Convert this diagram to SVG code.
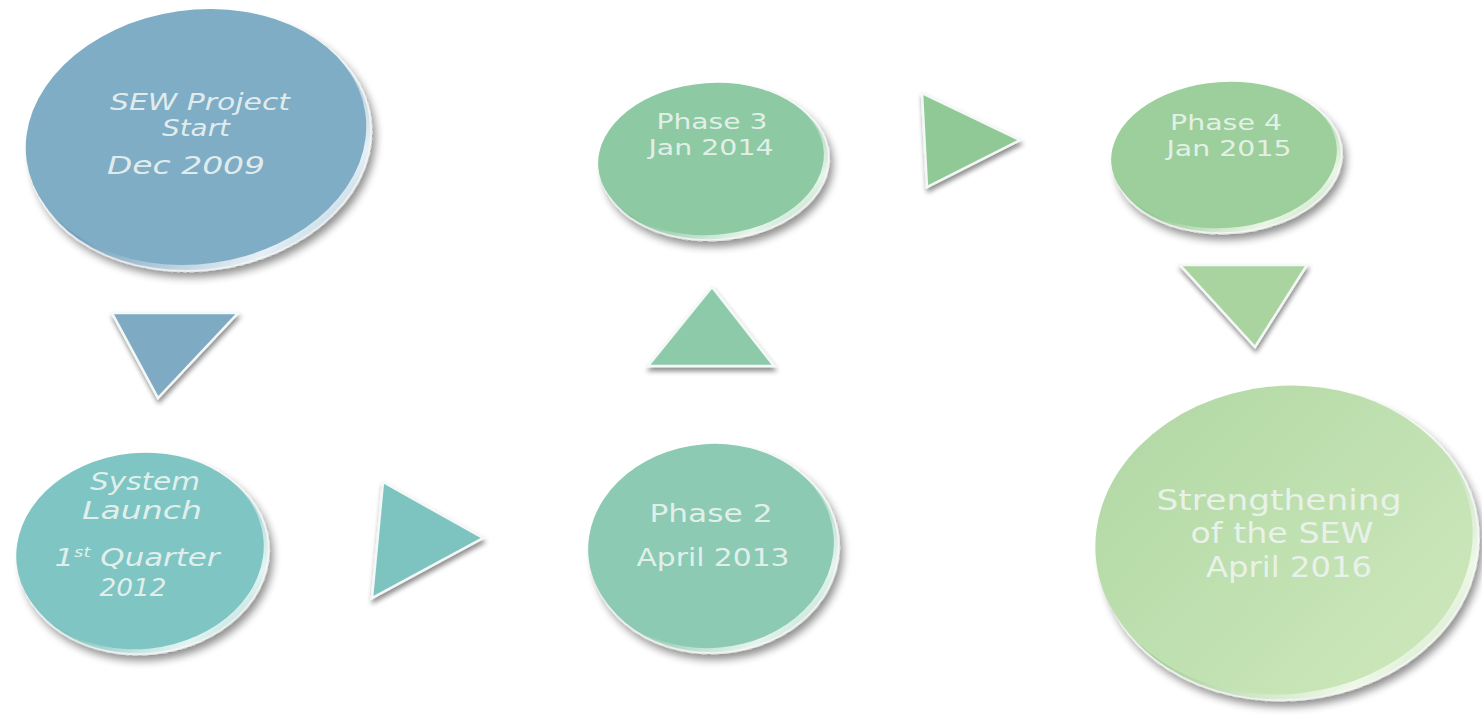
<svg xmlns="http://www.w3.org/2000/svg" width="1482" height="715" viewBox="0 0 1482 715">
<style>
  .lbl { font-family: "DejaVu Sans", "Liberation Sans", sans-serif; fill: #eef5f2; fill-opacity: 0.9; text-anchor: middle; }
  .it { font-style: italic; }
  .tri { stroke: #f4f8f6; stroke-width: 2.5; stroke-linejoin: miter; filter: url(#tshadow); }
  .face { stroke: none; }
  .rim { stroke: #ffffff; stroke-opacity: 0.8; stroke-width: 1.5; filter: url(#dshadow); }
</style>
<defs>
  <filter id="dshadow" x="-20%" y="-20%" width="140%" height="150%">
    <feGaussianBlur in="SourceAlpha" stdDeviation="4"/>
    <feOffset dx="3" dy="6" result="b"/>
    <feComponentTransfer><feFuncA type="linear" slope="0.45"/></feComponentTransfer>
    <feMerge><feMergeNode/><feMergeNode in="SourceGraphic"/></feMerge>
  </filter>
  <filter id="tshadow" x="-20%" y="-20%" width="140%" height="150%">
    <feGaussianBlur in="SourceAlpha" stdDeviation="2.5"/>
    <feOffset dx="1" dy="4" result="b"/>
    <feComponentTransfer><feFuncA type="linear" slope="0.45"/></feComponentTransfer>
    <feMerge><feMergeNode/><feMergeNode in="SourceGraphic"/></feMerge>
  </filter>
  <linearGradient id="rim1" x1="0" y1="0" x2="1" y2="1"><stop offset="0.45" stop-color="#6f9cb6"/><stop offset="0.8" stop-color="#e6f0f6"/><stop offset="1" stop-color="#8fb3c8"/></linearGradient>
  <linearGradient id="rim2" x1="0" y1="0" x2="1" y2="1"><stop offset="0.45" stop-color="#6ab5b2"/><stop offset="0.8" stop-color="#e4f5f3"/><stop offset="1" stop-color="#86c4c1"/></linearGradient>
  <linearGradient id="rim3" x1="0" y1="0" x2="1" y2="1"><stop offset="0.45" stop-color="#78bb9f"/><stop offset="0.8" stop-color="#e6f5ee"/><stop offset="1" stop-color="#92c9b2"/></linearGradient>
  <linearGradient id="rim4" x1="0" y1="0" x2="1" y2="1"><stop offset="0.45" stop-color="#79b98f"/><stop offset="0.8" stop-color="#e6f5ea"/><stop offset="1" stop-color="#94c9a5"/></linearGradient>
  <linearGradient id="rim5" x1="0" y1="0" x2="1" y2="1"><stop offset="0.45" stop-color="#86c086"/><stop offset="0.8" stop-color="#eaf6e6"/><stop offset="1" stop-color="#a2cf9f"/></linearGradient>
  <linearGradient id="rim6" x1="0" y1="0" x2="1" y2="1"><stop offset="0.45" stop-color="#9cca90"/><stop offset="0.8" stop-color="#eef8e8"/><stop offset="1" stop-color="#bcdcaf"/></linearGradient>
  <linearGradient id="face6" x1="0" y1="0" x2="1" y2="1"><stop offset="0" stop-color="#b0d7a3"/><stop offset="1" stop-color="#cfe9bd"/></linearGradient>
</defs>

<g id="connectors">
  <polygon id="arrow1" class="tri" points="112,313 238,313 158,398" fill="#7eaac4"/>
  <polygon id="arrow2" class="tri" points="383,482 483,538 372,598" fill="#7dc3bf"/>
  <polygon id="arrow3" class="tri" points="712,287 648,366 774,366" fill="#8ccaaa"/>
  <polygon id="arrow4" class="tri" points="922,93 1020,140 927,187" fill="#90c995"/>
  <polygon id="arrow5" class="tri" points="1180,265 1307,265 1255,347" fill="#a9d49f"/>
</g>

<g id="node-sew-start">
  <ellipse class="rim" cx="200" cy="142" rx="172" ry="128" transform="rotate(-8 200 142)" fill="url(#rim1)"/>
  <ellipse class="face" cx="196" cy="137" rx="171" ry="127" transform="rotate(-8 196 137)" fill="#80adc6"/>
  <text class="lbl it" font-size="23" x="200" y="110" textLength="180" lengthAdjust="spacingAndGlyphs">SEW Project</text>
  <text class="lbl it" font-size="23" x="196" y="136" textLength="68" lengthAdjust="spacingAndGlyphs">Start</text>
  <text class="lbl it" font-size="24" x="186" y="174" textLength="158" lengthAdjust="spacingAndGlyphs">Dec 2009</text>
</g>

<g id="node-system-launch">
  <ellipse class="rim" cx="144" cy="555" rx="125" ry="99" transform="rotate(-6 144 555)" fill="url(#rim2)"/>
  <ellipse class="face" cx="140" cy="551" rx="124" ry="98" transform="rotate(-6 140 551)" fill="#7fc5c3"/>
  <text class="lbl it" font-size="24" x="145" y="490" textLength="110" lengthAdjust="spacingAndGlyphs">System</text>
  <text class="lbl it" font-size="24" x="142" y="519" textLength="120" lengthAdjust="spacingAndGlyphs">Launch</text>
  <text class="lbl it" font-size="24" x="137" y="566" textLength="165" lengthAdjust="spacingAndGlyphs">1<tspan font-size="14" dy="-9">st</tspan><tspan dy="9"> Quarter</tspan></text>
  <text class="lbl it" font-size="24" x="133" y="596" textLength="67" lengthAdjust="spacingAndGlyphs">2012</text>
</g>

<g id="node-phase2">
  <ellipse class="rim" cx="715" cy="550" rx="124" ry="103" transform="rotate(-5 715 550)" fill="url(#rim3)"/>
  <ellipse class="face" cx="711" cy="546" rx="123" ry="102" transform="rotate(-5 711 546)" fill="#8ccab4"/>
  <text class="lbl" font-size="25" x="711" y="522" textLength="123" lengthAdjust="spacingAndGlyphs">Phase 2</text>
  <text class="lbl" font-size="25" x="713" y="566" textLength="153" lengthAdjust="spacingAndGlyphs">April 2013</text>
</g>

<g id="node-phase3">
  <ellipse class="rim" cx="715" cy="163" rx="114" ry="77" transform="rotate(-4 715 163)" fill="url(#rim4)"/>
  <ellipse class="face" cx="711" cy="159" rx="113" ry="76" transform="rotate(-4 711 159)" fill="#8dc9a3"/>
  <text class="lbl" font-size="22" x="712" y="129" textLength="111" lengthAdjust="spacingAndGlyphs">Phase 3</text>
  <text class="lbl" font-size="22" x="711" y="155" textLength="125" lengthAdjust="spacingAndGlyphs">Jan 2014</text>
</g>

<g id="node-phase4">
  <ellipse class="rim" cx="1228" cy="159" rx="114" ry="74" transform="rotate(-4 1228 159)" fill="url(#rim5)"/>
  <ellipse class="face" cx="1224" cy="155" rx="113" ry="73" transform="rotate(-4 1224 155)" fill="#9ccf9b"/>
  <text class="lbl" font-size="22" x="1226" y="130" textLength="112" lengthAdjust="spacingAndGlyphs">Phase 4</text>
  <text class="lbl" font-size="22" x="1229" y="156" textLength="125" lengthAdjust="spacingAndGlyphs">Jan 2015</text>
</g>

<g id="node-strengthening">
  <ellipse class="rim" cx="1289" cy="545" rx="190" ry="155" transform="rotate(-6 1289 545)" fill="url(#rim6)"/>
  <ellipse class="face" cx="1284" cy="540" rx="189" ry="154" transform="rotate(-6 1284 540)" fill="url(#face6)"/>
  <text class="lbl" font-size="28" x="1279" y="510" textLength="245" lengthAdjust="spacingAndGlyphs">Strengthening</text>
  <text class="lbl" font-size="28" x="1282" y="543" textLength="183" lengthAdjust="spacingAndGlyphs">of the SEW</text>
  <text class="lbl" font-size="28" x="1289" y="577" textLength="166" lengthAdjust="spacingAndGlyphs">April 2016</text>
</g>
</svg>
